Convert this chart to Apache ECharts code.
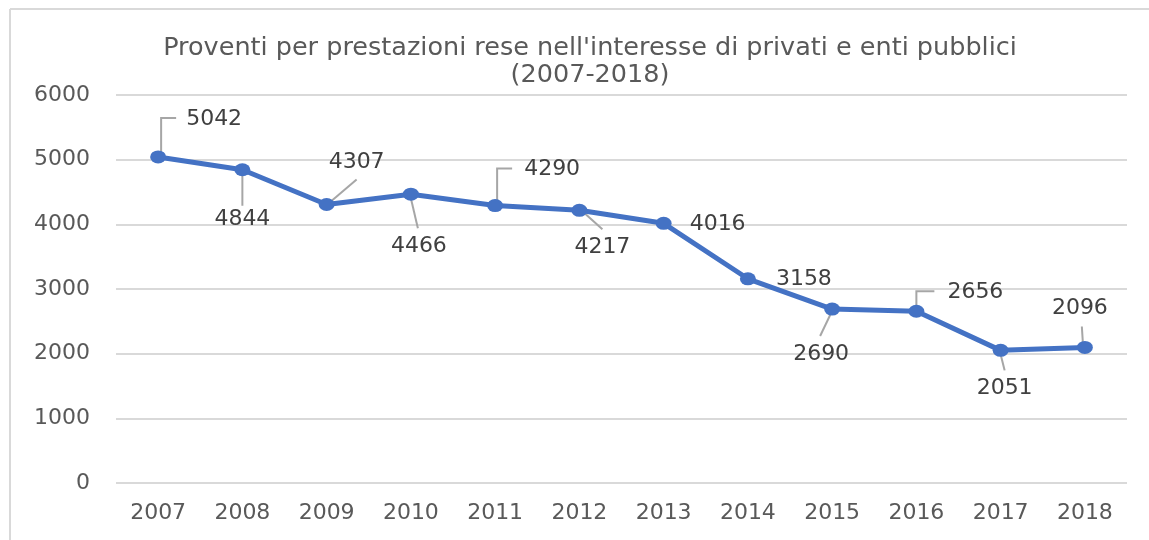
<!DOCTYPE html>
<html>
<head>
<meta charset="utf-8">
<script src="https://cdn.jsdelivr.net/npm/echarts@6/dist/echarts.min.js"></script>
<style>
html,body{margin:0;padding:0;background:#fff;overflow:hidden;}
#chart{width:1149px;height:540px;}
</style>
</head>
<body>
<div id="chart"></div>
<script>
// Data
var categories = ['2007','2008','2009','2010','2011','2012','2013','2014','2015','2016','2017','2018'];
var values = [5042, 4844, 4307, 4466, 4290, 4217, 4016, 3158, 2690, 2656, 2051, 2096];
var yTicks = [0, 1000, 2000, 3000, 4000, 5000, 6000];
var titleLines = ["Proventi per prestazioni rese nell'interesse di privati e enti pubblici", "(2007-2018)"];

// Label placement (leader polyline points and text center, relative to each point, in px)
var labelLayout = [
  {line: [[3,-4],[3,-39],[18,-39]], text: [56,-38]},
  {line: [[0,5],[0,36]], text: [0,50]},
  {line: [[3,-2],[30,-25]], text: [30,-42]},
  {line: [[0,4],[7,34]], text: [8,52]},
  {line: [[2,-4],[2,-37],[17,-37]], text: [57,-36]},
  {line: [[3,1],[23,19]], text: [23,37]},
  {line: null, text: [54,1]},
  {line: null, text: [56,0]},
  {line: [[-1,4],[-12,27]], text: [-11,45]},
  {line: [[0,-4],[0,-20],[18,-20]], text: [59,-19]},
  {line: [[0,4],[4,20]], text: [4,38]},
  {line: [[-2,-4],[-3,-21]], text: [-5,-39]}
];

var chart = echarts.init(document.getElementById('chart'), null, {renderer: 'canvas'});
var numFont = 'DejaVu Sans';
var numSize = 22;

var option = {
  animation: false,
  backgroundColor: '#ffffff',
  title: {
    text: titleLines.join('\n'),
    left: 590,
    textAlign: 'center',
    top: 35,
    padding: 0,
    textStyle: {
      fontFamily: 'DejaVu Sans',
      fontSize: 25.5,
      fontWeight: 'normal',
      color: '#595959',
      lineHeight: 27
    }
  },
  graphic: [
    {type: 'line', shape: {x1: 10, y1: 9, x2: 1170, y2: 9}, style: {stroke: '#d9d9d9', lineWidth: 2}, silent: true},
    {type: 'line', shape: {x1: 10, y1: 9, x2: 10, y2: 560}, style: {stroke: '#d9d9d9', lineWidth: 2}, silent: true}
  ],
  grid: {left: 116, right: 22, top: 95, bottom: 57, containLabel: false},
  xAxis: {
    type: 'category',
    data: categories,
    boundaryGap: true,
    axisLine: {show: false},
    axisTick: {show: false},
    axisLabel: {color: '#595959', fontFamily: numFont, fontSize: numSize, margin: 19}
  },
  yAxis: {
    type: 'value',
    min: yTicks[0],
    max: yTicks[yTicks.length - 1],
    interval: 1000,
    axisLine: {show: false},
    axisTick: {show: false},
    axisLabel: {
      color: '#595959', fontFamily: numFont, fontSize: numSize, margin: 26,
      formatter: function (v) { return String(v); }
    },
    splitLine: {lineStyle: {color: '#d9d9d9', width: 2}}
  },
  series: [
    {
      type: 'custom',
      z: 1,
      silent: true,
      data: values.map(function (v, i) { return [i, v]; }),
      renderItem: function (params, api) {
        var i = params.dataIndex;
        var pt = api.coord([api.value(0), api.value(1)]);
        var lay = labelLayout[i];
        var children = [];
        if (lay.line) {
          children.push({
            type: 'polyline',
            shape: {points: lay.line.map(function (p) { return [pt[0] + p[0], pt[1] + p[1]]; })},
            style: {stroke: '#a6a6a6', lineWidth: 2, fill: null}
          });
        }
        children.push({
          type: 'text',
          x: pt[0] + lay.text[0],
          y: pt[1] + lay.text[1],
          style: {
            text: String(api.value(1)),
            fill: '#404040',
            fontFamily: numFont,
            fontSize: numSize,
            align: 'center',
            verticalAlign: 'middle'
          }
        });
        return {type: 'group', children: children};
      }
    },
    {
      type: 'line',
      z: 3,
      data: values,
      symbol: 'circle',
      symbolSize: [16, 13],
      lineStyle: {color: '#4472C4', width: 5},
      itemStyle: {color: '#4472C4'},
      label: {show: false}
    }
  ]
};
chart.setOption(option);
</script>
</body>
</html>
